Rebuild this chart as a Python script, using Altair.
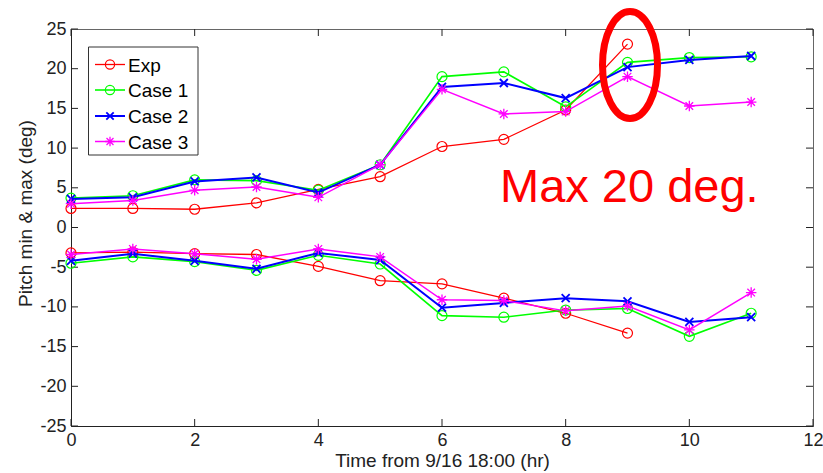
import altair as alt
import pandas as pd

# ---------------- data ----------------
series = ["Exp", "Case 1", "Case 2", "Case 3"]
colors = ["#ff0000", "#00ff00", "#0000ff", "#ff00ff"]

hours = [0, 1, 2, 3, 4, 5, 6, 7, 8, 9, 10, 11]

exp_max = [2.4, 2.4, 2.3, 3.1, 4.8, 6.4, 10.2, 11.1, 14.8, 23.1]
case1_max = [3.7, 4.0, 6.0, 5.9, 4.7, 7.9, 19.0, 19.6, 15.2, 20.8, 21.4, 21.5]
case2_max = [3.6, 3.8, 5.8, 6.3, 4.4, 7.9, 17.7, 18.2, 16.3, 20.2, 21.1, 21.6]
case3_max = [3.0, 3.4, 4.7, 5.1, 3.8, 7.9, 17.4, 14.3, 14.6, 19.0, 15.3, 15.8]

exp_min = [-3.2, -3.1, -3.3, -3.4, -4.9, -6.7, -7.1, -8.9, -10.8, -13.3]
case1_min = [-4.5, -3.7, -4.3, -5.4, -3.5, -4.6, -11.1, -11.3, -10.4, -10.2, -13.7, -10.8]
case2_min = [-4.2, -3.3, -4.2, -5.2, -3.2, -4.1, -10.1, -9.5, -8.9, -9.3, -11.9, -11.3]
case3_min = [-3.4, -2.7, -3.3, -4.0, -2.7, -3.7, -9.1, -9.2, -10.5, -9.9, -12.9, -8.2]

x_ticks = [0, 2, 4, 6, 8, 10, 12]
y_ticks = [-25, -20, -15, -10, -5, 0, 5, 10, 15, 20, 25]

x_title = "Time from 9/16 18:00 (hr)"
y_title = "Pitch min & max (deg)"
annotation_text = "Max 20 deg."

# ---------------- build table ----------------
maxes = [exp_max, case1_max, case2_max, case3_max]
mins = [exp_min, case1_min, case2_min, case3_min]
rows = []
for s, mx, mn in zip(series, maxes, mins):
    for h, v in zip(hours, mx):
        rows.append({"hour": h, "value": v, "series": s, "part": "max"})
    for h, v in zip(hours, mn):
        rows.append({"hour": h, "value": v, "series": s, "part": "min"})
df = pd.DataFrame(rows)

W, H = 742, 397
FONT = "Liberation Sans"

x_scale = alt.Scale(domain=[0, 12], nice=False, zero=False)
y_scale = alt.Scale(domain=[-25, 25], nice=False, zero=False)
x_axis = alt.Axis(values=x_ticks, title=x_title, ticks=False, grid=False,
                  labelPadding=5, titlePadding=2, labelFontSize=18,
                  titleFontSize=19, labelFlush=False,
                  labelExpr="'' + datum.value")
y_axis = alt.Axis(values=y_ticks, title=y_title, ticks=False, grid=False,
                  labelPadding=5, titlePadding=4, labelFontSize=18,
                  titleFontSize=19, labelFlush=False, titleY=184,
                  labelExpr="'' + datum.value")


def X(field):
    return alt.X(field, scale=x_scale, axis=x_axis, title=x_title)


def Y(field):
    return alt.Y(field, scale=y_scale, axis=y_axis, title=y_title)


X_PATH = "M-1,-1L1,1M-1,1L1,-1"
STAR_PATH = "M-1,0L1,0M0,-1L0,1M-0.72,-0.72L0.72,0.72M-0.72,0.72L0.72,-0.72"
ELLIPSE_PATH = "M0,-1A0.514,1,0,1,1,0,1A0.514,1,0,1,1,0,-1Z"

styles = {
    "Exp": dict(shape="circle", size=100, lw=1.3, mw=1.2),
    "Case 1": dict(shape="circle", size=100, lw=1.6, mw=1.2),
    "Case 2": dict(shape=X_PATH, size=64, lw=2.0, mw=1.8),
    "Case 3": dict(shape=STAR_PATH, size=110, lw=1.5, mw=1.3),
}

layers = []

# inward ticks (MATLAB style)
xt = pd.DataFrame({"hour": x_ticks})
yt = pd.DataFrame({"value": y_ticks})
tick_color = "#222222"
layers.append(alt.Chart(yt).mark_rule(color=tick_color, strokeWidth=1).encode(
    y=Y("value:Q"), x=alt.value(0), x2=alt.value(7)))
layers.append(alt.Chart(yt).mark_rule(color=tick_color, strokeWidth=1).encode(
    y=Y("value:Q"), x=alt.value(W - 7), x2=alt.value(W)))
layers.append(alt.Chart(xt).mark_rule(color=tick_color, strokeWidth=1).encode(
    x=X("hour:Q"), y=alt.value(H), y2=alt.value(H - 7)))
layers.append(alt.Chart(xt).mark_rule(color=tick_color, strokeWidth=1).encode(
    x=X("hour:Q"), y=alt.value(0), y2=alt.value(7)))

# data series
for s, c in zip(series, colors):
    st = styles[s]
    sub = df[df["series"] == s]
    for part in ["max", "min"]:
        d = sub[sub["part"] == part]
        layers.append(alt.Chart(d).mark_line(color=c, strokeWidth=st["lw"]).encode(
            x=X("hour:Q"), y=Y("value:Q"), order="hour:Q"))
        layers.append(alt.Chart(d).mark_point(
            color=c, filled=False, shape=st["shape"], size=st["size"],
            strokeWidth=st["mw"], opacity=1).encode(
            x=X("hour:Q"), y=Y("value:Q")))

# legend box
layers.append(alt.Chart(pd.DataFrame({"a": [0]})).mark_rect(
    fill="white", stroke="#333333", strokeWidth=1).encode(
    x=alt.value(17.5), x2=alt.value(127), y=alt.value(18), y2=alt.value(126)))
leg_y = [35.5, 61, 87, 112.5]
for s, c, ly in zip(series, colors, leg_y):
    st = styles[s]
    ldf = pd.DataFrame({"series": [s]})
    layers.append(alt.Chart(ldf).mark_rule(color=c, strokeWidth=st["lw"]).encode(
        x=alt.value(24), x2=alt.value(54), y=alt.value(ly)))
    layers.append(alt.Chart(ldf).mark_point(
        color=c, filled=False, shape=st["shape"], size=st["size"] * 0.85,
        strokeWidth=st["mw"], opacity=1).encode(x=alt.value(39), y=alt.value(ly)))
    layers.append(alt.Chart(ldf).mark_text(
        align="left", baseline="middle", fontSize=19, font=FONT, color="black").encode(
        text="series:N", x=alt.value(57), y=alt.value(ly + 1)))

# annotations
adf = pd.DataFrame({"label": [annotation_text]})
layers.append(alt.Chart(adf).mark_text(
    align="left", baseline="alphabetic", fontSize=47, font=FONT, color="#ff0000").encode(
    text="label:N", x=alt.value(429), y=alt.value(173)))
layers.append(alt.Chart(adf).mark_point(
    shape=ELLIPSE_PATH, size=11449, filled=False, color="#ff0000",
    strokeWidth=7, opacity=1).encode(x=alt.value(559), y=alt.value(36)))

chart = alt.layer(*layers).properties(
    width=W, height=H,
    autosize=alt.AutoSizeParams(type="none"),
    padding={"left": 71, "top": 29, "right": 10, "bottom": 47},
    background="white",
).configure_view(
    stroke="#666666", strokeWidth=1
).configure_axis(
    domainColor="#222222", labelColor="#222222", titleColor="#222222",
    labelFont=FONT, titleFont=FONT, titleFontWeight="normal",
).configure_text(font=FONT)

chart.save("out.html", embed_options={"renderer": "svg", "actions": False})
